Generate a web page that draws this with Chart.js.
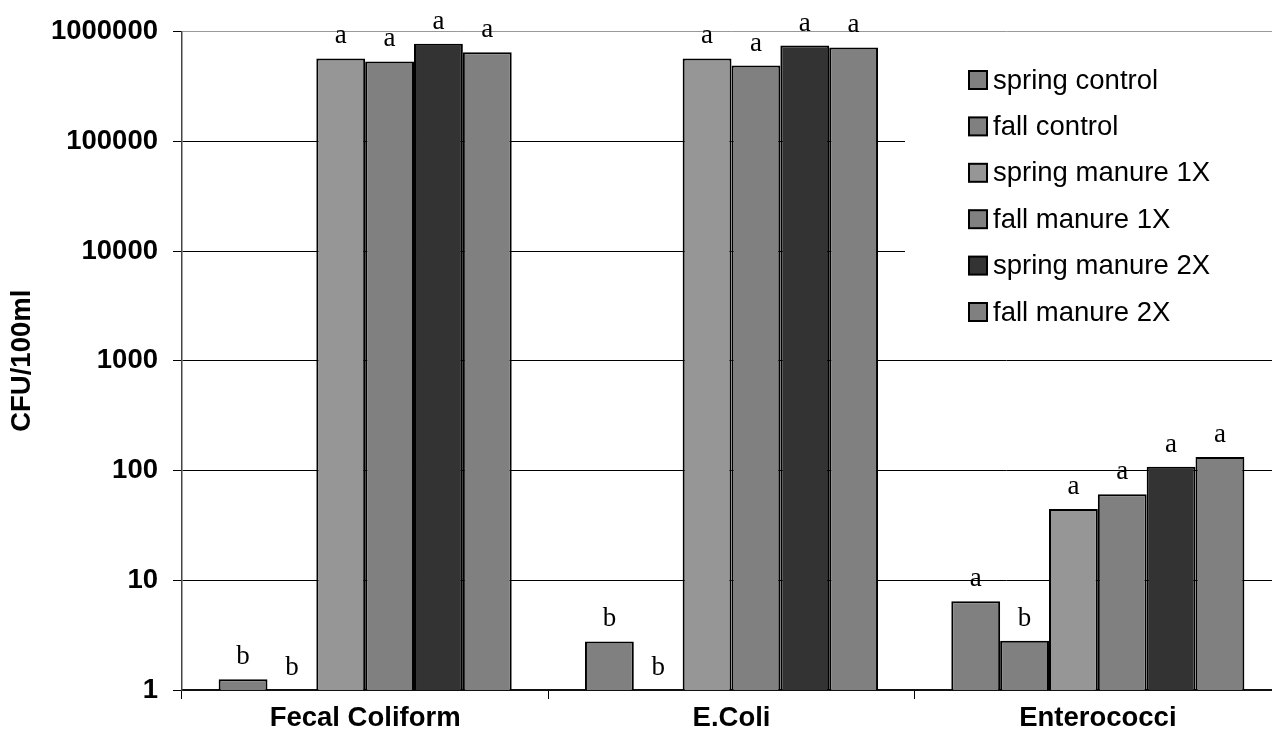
<!DOCTYPE html>
<html>
<head>
<meta charset="utf-8">
<script src="https://cdn.jsdelivr.net/npm/chart.js@4/dist/chart.umd.min.js"></script>
<style>
  html, body { margin: 0; padding: 0; background: #fff; overflow: hidden; }
</style>
</head>
<body>
<canvas id="chart" width="1300" height="744"></canvas>
<script>
// categories and tick labels
const categories = ['Fecal Coliform', 'E.Coli', 'Enterococci'];
const yTicks = [1, 10, 100, 1000, 10000, 100000, 1000000];

// series values (CFU/100ml), null = below the axis
const springControl = [1.25, 2.77, 6.43];
const fallControl = [null, null, 2.81];
const springManure1X = [568000, 568000, 44.7];
const fallManure1X = [533000, 490000, 60.8];
const springManure2X = [773000, 745000, 108];
const fallManure2X = [647000, 715000, 133];

// significance letters above the bars
const springControlLetters = ['b', 'b', 'a'];
const fallControlLetters = ['b', 'b', 'b'];
const springManure1XLetters = ['a', 'a', 'a'];
const fallManure1XLetters = ['a', 'a', 'a'];
const springManure2XLetters = ['a', 'a', 'a'];
const fallManure2XLetters = ['a', 'a', 'a'];

const sans = "'Liberation Sans', Arial, sans-serif";
const serif = "'Liberation Serif', 'Times New Roman', serif";
const fontSize = 27.5;

function makeSet(label, data, letters, colour) {
    return {
        label: label,
        data: data,
        letters: letters,
        backgroundColor: colour,
        borderColor: '#000',
        borderWidth: 2,
        categoryPercentage: 0.8,
        barPercentage: 1.0
    };
}

// letters on top of each bar
const letterPlugin = {
    id: 'letters',
    afterDatasetsDraw(chart) {
        const ctx = chart.ctx;
        ctx.save();
        ctx.font = '27px ' + serif;
        ctx.fillStyle = '#000';
        ctx.textAlign = 'center';
        ctx.textBaseline = 'alphabetic';
        chart.data.datasets.forEach((ds, i) => {
            const meta = chart.getDatasetMeta(i);
            meta.data.forEach((bar, j) => {
                const v = ds.data[j];
                const y = (v == null || v < 1) ? chart.chartArea.bottom : bar.y;
                ctx.fillText(ds.letters[j], bar.x, y - 15);
            });
        });
        ctx.restore();
    }
};

// legend box inside the plot, on a white background
const legendPlugin = {
    id: 'boxLegend',
    afterDraw(chart) {
        const ctx = chart.ctx;
        ctx.save();
        ctx.fillStyle = '#fff';
        ctx.fillRect(905, 50, 400, 290);
        ctx.font = fontSize + 'px ' + sans;
        ctx.textBaseline = 'middle';
        ctx.textAlign = 'left';
        chart.data.datasets.forEach((ds, i) => {
            const cy = 80 + i * 46.4;
            ctx.fillStyle = ds.backgroundColor;
            ctx.fillRect(969, cy - 9, 18, 18);
            ctx.strokeStyle = '#000';
            ctx.lineWidth = 2;
            ctx.strokeRect(969, cy - 9, 18, 18);
            ctx.fillStyle = '#000';
            ctx.fillText(ds.label, 993, cy + 1);
        });
        ctx.restore();
    }
};

new Chart(document.getElementById('chart'), {
    type: 'bar',
    data: {
        labels: categories,
        datasets: [
            makeSet('spring control', springControl, springControlLetters, '#808080'),
            makeSet('fall control', fallControl, fallControlLetters, '#808080'),
            makeSet('spring manure 1X', springManure1X, springManure1XLetters, '#969696'),
            makeSet('fall manure 1X', fallManure1X, fallManure1XLetters, '#808080'),
            makeSet('spring manure 2X', springManure2X, springManure2XLetters, '#333333'),
            makeSet('fall manure 2X', fallManure2X, fallManure2XLetters, '#808080')
        ]
    },
    options: {
        responsive: false,
        animation: false,
        layout: { padding: { left: 0, right: 19, top: 29, bottom: 0 } },
        plugins: {
            legend: { display: false },
            tooltip: { enabled: false }
        },
        scales: {
            x: {
                afterFit: s => { s.height = 54; },
                grid: {
                    offset: true,
                    drawOnChartArea: false,
                    tickLength: 9,
                    color: '#000'
                },
                border: { color: '#111', width: 2 },
                ticks: {
                    padding: 3,
                    color: '#000',
                    font: { family: sans, size: fontSize, weight: 'bold' }
                }
            },
            y: {
                type: 'logarithmic',
                min: 1,
                max: 1000000,
                afterFit: s => { s.width = 182; },
                afterBuildTicks: s => { s.ticks = yTicks.map(v => ({ value: v })); },
                grid: {
                    color: c => (c.tick && c.tick.value === 1000000) ? '#999' : '#000',
                    tickColor: '#000',
                    tickLength: 9
                },
                border: { color: '#444', width: 1.5 },
                ticks: {
                    padding: 15,
                    color: '#000',
                    autoSkip: false,
                    font: { family: sans, size: fontSize, weight: 'bold' },
                    callback: v => String(v)
                },
                title: {
                    display: true,
                    text: 'CFU/100ml',
                    color: '#000',
                    padding: { top: 6, bottom: 0 },
                    font: { family: sans, size: fontSize, weight: 'bold' }
                }
            }
        }
    },
    plugins: [letterPlugin, legendPlugin]
});
</script>
</body>
</html>
